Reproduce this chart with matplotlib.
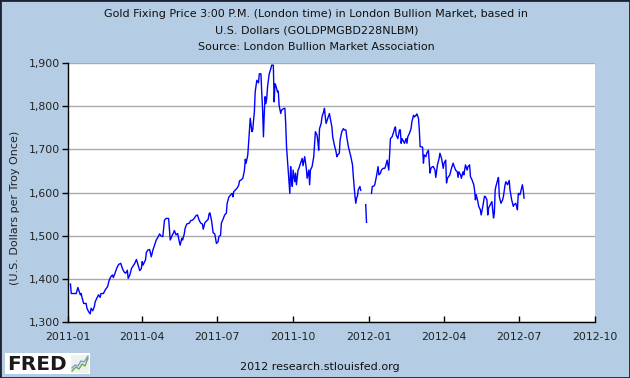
import matplotlib
matplotlib.use('Agg')
from matplotlib import pyplot as plt
import matplotlib.dates as mdates
from matplotlib.ticker import FuncFormatter, MultipleLocator
from matplotlib.patches import Rectangle
import numpy as np
import pandas as pd

# gold PM fix, USD per troy ounce, nan = no fixing (holidays)
dates_2011 = [
    '01-04', '01-05', '01-11', '01-13', '01-14', '01-16', '01-17', '01-18', '01-20', '01-23',
    '01-24', '01-26', '01-28', '01-29', '01-31', '02-02', '02-03', '02-05', '02-07', '02-09',
    '02-10', '02-13', '02-15', '02-18', '02-20', '02-22', '02-24', '02-25', '02-27', '03-01',
    '03-03', '03-04', '03-06', '03-08', '03-10', '03-12', '03-14', '03-15', '03-17', '03-19',
    '03-21', '03-23', '03-25', '03-27', '03-29', '03-31', '04-01', '04-02', '04-05', '04-06',
    '04-08', '04-10', '04-12', '04-14', '04-16', '04-18', '04-20', '04-22', '04-24', '04-26',
    '04-28', '04-30', '05-03', '05-05', '05-07', '05-09', '05-10', '05-12', '05-14', '05-16',
    '05-17', '05-19', '05-20', '05-22', '05-23', '05-25', '05-28', '05-30', '06-01', '06-03',
    '06-05', '06-07', '06-09', '06-11', '06-13', '06-14', '06-16', '06-18', '06-20', '06-21',
    '06-22', '06-24', '06-26', '06-28', '06-30', '07-02', '07-03', '07-05', '07-06', '07-08',
    '07-10', '07-12', '07-13', '07-15', '07-17', '07-19', '07-20', '07-21', '07-23', '07-25',
    '07-27', '07-28', '07-30', '08-01', '08-03', '08-04', '08-05', '08-07', '08-08', '08-10',
    '08-12', '08-13', '08-15', '08-16', '08-18', '08-20', '08-21', '08-23', '08-24', '08-25',
    '08-26', '08-27', '08-28', '08-29', '08-30', '08-31', '09-02', '09-04', '09-05', '09-07',
    '09-08', '09-09', '09-10', '09-11', '09-12', '09-13', '09-14', '09-16', '09-17', '09-20',
    '09-21', '09-22', '09-23', '09-25', '09-26', '09-27', '09-28', '09-29', '09-30', '10-01',
    '10-03', '10-04', '10-05', '10-07', '10-08', '10-10', '10-12', '10-13', '10-15', '10-17',
    '10-18', '10-20', '10-21', '10-22', '10-24', '10-26', '10-27', '10-28', '10-30', '10-31',
    '11-01', '11-02', '11-04', '11-05', '11-07', '11-08', '11-09', '11-10', '11-12', '11-14',
    '11-15', '11-17', '11-18', '11-20', '11-22', '11-23', '11-24', '11-26', '11-27', '11-29',
    '12-01', '12-02', '12-04', '12-05', '12-07', '12-09', '12-10', '12-12', '12-13', '12-15',
    '12-16', '12-17', '12-18', '12-19', '12-21', '12-22', '12-25', '12-28', '12-29',
]
price_2011 = [
    1388, 1366, 1366, 1380, 1374, 1363, 1366, 1357, 1343, 1343,
    1332, 1324, 1319, 1332, 1326, 1336, 1347, 1355, 1363, 1357,
    1366, 1366, 1374, 1382, 1397, 1405, 1409, 1403, 1413, 1424,
    1432, 1434, 1436, 1424, 1416, 1413, 1420, 1401, 1409, 1424,
    1430, 1436, 1445, 1432, 1419, 1424, 1440, 1432, 1444, 1461,
    1467, 1468, 1451, 1467, 1478, 1490, 1496, 1504, 1499, 1498,
    1536, 1540, 1540, 1490, 1499, 1507, 1512, 1502, 1505, 1486,
    1478, 1494, 1490, 1504, 1517, 1527, 1529, 1535, 1536, 1540,
    1546, 1548, 1536, 1529, 1527, 1515, 1530, 1534, 1538, 1550,
    1553, 1536, 1507, 1504, 1482, 1486, 1498, 1501, 1529, 1538,
    1548, 1552, 1575, 1589, 1594, 1598, 1590, 1602, 1606, 1610,
    1617, 1627, 1629, 1633, 1652, 1677, 1668, 1687, 1714, 1772,
    1741, 1745, 1787, 1833, 1860, 1854, 1875, 1875, 1829, 1791,
    1729, 1783, 1822, 1806, 1818, 1845, 1875, 1887, 1895, 1895,
    1810, 1852, 1848, 1841, 1833, 1835, 1802, 1783, 1791, 1795,
    1795, 1760, 1706, 1652, 1622, 1598, 1660, 1629, 1614, 1652,
    1625, 1645, 1618, 1652, 1656, 1668, 1679, 1662, 1683, 1656,
    1633, 1652, 1618, 1652, 1660, 1683, 1714, 1741, 1733, 1718,
    1698, 1748, 1760, 1775, 1787, 1795, 1775, 1760, 1772, 1783,
    1772, 1752, 1729, 1710, 1695, 1683, 1687, 1691, 1722, 1741,
    1748, 1745, 1745, 1729, 1706, 1691, 1683, 1664, 1637, 1591,
    1575, 1587, 1592, 1606, 1614, 1605, np.nan, 1572, 1531,
]

dates_2012 = [
    '01-01', '01-04', '01-05', '01-07', '01-08', '01-10', '01-12', '01-13', '01-15', '01-16',
    '01-18', '01-20', '01-21', '01-23', '01-25', '01-26', '01-27', '01-29', '01-31', '02-01',
    '02-02', '02-03', '02-05', '02-07', '02-08', '02-09', '02-10', '02-12', '02-13', '02-15',
    '02-16', '02-17', '02-19', '02-21', '02-22', '02-24', '02-25', '02-27', '02-28', '03-01',
    '03-02', '03-03', '03-04', '03-06', '03-07', '03-08', '03-10', '03-11', '03-13', '03-14',
    '03-15', '03-16', '03-18', '03-19', '03-21', '03-22', '03-24', '03-26', '03-27', '03-29',
    '03-31', '04-01', '04-03', '04-04', '04-05', '04-07', '04-08', '04-10', '04-12', '04-13',
    '04-15', '04-17', '04-18', '04-19', '04-21', '04-22', '04-24', '04-25', '04-27', '04-29',
    '04-30', '05-02', '05-03', '05-05', '05-07', '05-08', '05-09', '05-10', '05-12', '05-13',
    '05-15', '05-16', '05-18', '05-20', '05-21', '05-23', '05-24', '05-25', '05-26', '05-28',
    '05-29', '05-30', '05-31', '06-01', '06-02', '06-03', '06-05', '06-06', '06-07', '06-09',
    '06-11', '06-12', '06-14', '06-15', '06-17', '06-19', '06-20', '06-22', '06-24', '06-25',
    '06-27', '06-28', '06-29', '06-30', '07-02', '07-03', '07-05', '07-06', '07-07',
]
price_2012 = [
    np.nan, 1598, 1614, 1615, 1618, 1637, 1660, 1641, 1645, 1652,
    1656, 1656, 1660, 1675, 1652, 1691, 1725, 1729, 1741, 1748,
    1752, 1733, 1725, 1745, 1745, 1714, 1725, 1718, 1714, 1725,
    1714, 1729, 1737, 1748, 1764, 1779, 1775, 1779, 1782, 1772,
    1745, 1706, 1706, 1705, 1668, 1687, 1683, 1691, 1698, 1672,
    1645, 1656, 1660, 1660, 1652, 1635, 1664, 1679, 1691, 1679,
    1656, 1668, 1675, 1622, 1633, 1638, 1641, 1656, 1668, 1662,
    1652, 1648, 1635, 1648, 1641, 1633, 1648, 1641, 1664, 1652,
    1660, 1664, 1637, 1629, 1618, 1606, 1583, 1595, 1579, 1568,
    1560, 1548, 1568, 1591, 1591, 1583, 1548, 1564, 1568, 1575,
    1579, 1560, 1541, 1552, 1606, 1615, 1629, 1635, 1591, 1575,
    1583, 1591, 1618, 1625, 1618, 1628, 1606, 1583, 1568, 1572,
    1575, 1568, 1560, 1598, 1595, 1602, 1618, 1606, 1587,
]

title_lines = ['Gold Fixing Price 3:00 P.M. (London time) in London Bullion Market, based in',
               'U.S. Dollars (GOLDPMGBD228NLBM)',
               'Source: London Bullion Market Association']
y_label = '(U.S. Dollars per Troy Once)'
footer = '2012 research.stlouisfed.org'

dates = pd.to_datetime(['2011-' + d for d in dates_2011] + ['2012-' + d for d in dates_2012])
price = np.array(price_2011 + price_2012, dtype=float)

bg = '#b4cde4'
fig = plt.figure(figsize=(6.3, 3.78), dpi=100, facecolor=bg)
ax = fig.add_axes([0.1079, 0.1481, 0.8365, 0.6852])
ax.set_facecolor('white')

ax.plot(dates, price, color='#0000ff', lw=1.0)

ax.set_xlim(pd.Timestamp('2011-01-01'), pd.Timestamp('2012-10-01'))
ax.set_ylim(1300, 1900)
ax.yaxis.set_major_locator(MultipleLocator(100))
ax.yaxis.set_major_formatter(FuncFormatter(lambda v, p: f'{v:,.0f}'))
ax.xaxis.set_major_locator(mdates.MonthLocator(bymonth=[1, 4, 7, 10]))
ax.xaxis.set_major_formatter(mdates.DateFormatter('%Y-%m'))

ax.grid(axis='y', color='#aaaaaa', lw=1.0)
ax.set_axisbelow(True)
for s in ['top', 'right']:
    ax.spines[s].set_visible(False)
for s in ['left', 'bottom']:
    ax.spines[s].set_color('black')
    ax.spines[s].set_linewidth(1.0)
ax.tick_params(axis='y', direction='out', length=4, width=1, labelsize=7.8, pad=2, colors='black')
ax.tick_params(axis='x', direction='in', length=4, width=1, labelsize=7.8, pad=7, colors='black')
for lab in ax.get_xticklabels() + ax.get_yticklabels():
    lab.set_color('#222222')

fig.text(0.024, 1 - 208 / 378, y_label, rotation=90, ha='center', va='center',
         fontsize=8, color='#222222')

for i, line in enumerate(title_lines):
    fig.text(0.502, 1 - (13.7 + 16.6 * i) / 378, line, ha='center', va='center',
             fontsize=8, color='#111111')

fig.text(0.508, 1 - 367.5 / 378, footer, ha='center', va='center', fontsize=8, color='#111111')

# FRED logo
fig.patches.append(Rectangle((5 / 630, 1 - 374 / 378), 85 / 630, 21 / 378,
                             transform=fig.transFigure, facecolor='white', edgecolor='none'))
fig.text(7 / 630, 1 - 364 / 378, 'FRED', ha='left', va='center', fontsize=14.5,
         fontweight='bold', color='#1a1a1a', family='DejaVu Sans')
fig.patches.append(Rectangle((71 / 630, 1 - 373 / 378), 18 / 630, 18 / 378,
                             transform=fig.transFigure, facecolor='#eef2ee', edgecolor='none'))
fig.lines.append(plt.Line2D(np.array([72, 76, 79, 82, 85, 88]) / 630,
                            1 - np.array([371, 367, 369, 364, 366, 358]) / 378,
                            transform=fig.transFigure, color='#6aa84f', lw=1))
fig.lines.append(plt.Line2D(np.array([72, 75, 78, 81, 84, 88]) / 630,
                            1 - np.array([368, 365, 366, 361, 362, 356]) / 378,
                            transform=fig.transFigure, color='#7f9fc8', lw=1))

# outer frame
fig.patches.append(Rectangle((0, 0), 1, 1, transform=fig.transFigure, fill=False,
                             edgecolor='#1c2233', lw=2))

fig.savefig('out.png', dpi=100, facecolor=bg)
